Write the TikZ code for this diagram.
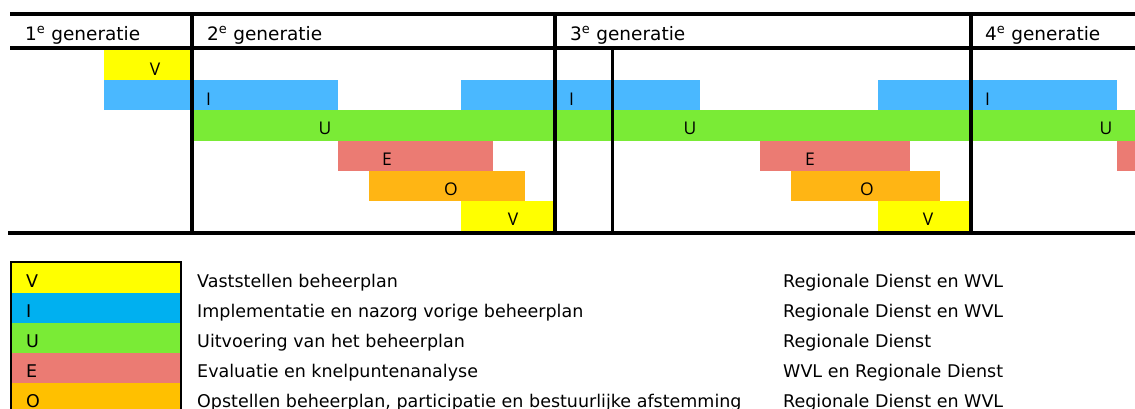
\documentclass[tikz,border=0pt]{standalone}
\usepackage{fontspec}
\setmainfont{DejaVu Sans}
\newfontfamily\barfont{Open Sans}
\definecolor{vyel}{HTML}{FFFF00}
\definecolor{iblue}{HTML}{4AB8FF}
\definecolor{ugreen}{HTML}{7AEB36}
\definecolor{esalmon}{HTML}{EB7B73}
\definecolor{oorange}{HTML}{FFB514}
\definecolor{legblue}{HTML}{00B0F0}
\definecolor{legorange}{HTML}{FFC000}
\begin{document}
\begin{tikzpicture}[x=1pt,y=-1pt,
  rule/.style={line width=4pt},
  thinrule/.style={line width=2.2pt},
  hdr/.style={anchor=base west,inner sep=0pt,font=\fontsize{18.5}{20}\selectfont},
  blab/.style={anchor=base,inner sep=0pt,font=\barfont\fontsize{17.5}{19}\selectfont},
  ltxt/.style={anchor=base west,inner sep=0pt,font=\fontsize{17.5}{19}\selectfont}]
\useasboundingbox (0,0) rectangle (1135,408);
\clip (0,0) rectangle (1135,408);
% ---------- bars ----------
% row 1
\fill[vyel] (104,50) rectangle (192,80);
% row 2
\fill[iblue] (104,80) rectangle (338,110);
\fill[iblue] (461,80) rectangle (700,110);
\fill[iblue] (878,80) rectangle (1117,110);
% row 3
\fill[ugreen] (192,110) rectangle (1135,140.5);
% row 4
\fill[esalmon] (338,140.5) rectangle (493,170.5);
\fill[esalmon] (760,140.5) rectangle (910,170.5);
\fill[esalmon] (1117,140.5) rectangle (1135,170.5);
% row 5
\fill[oorange] (369,170.5) rectangle (525,200.5);
\fill[oorange] (791,170.5) rectangle (940,200.5);
% row 6
\fill[vyel] (461,200.5) rectangle (555,231);
\fill[vyel] (878,200.5) rectangle (971,231);
% ---------- bar labels ----------
\node[blab] (v1) at (155,75) {V};
\node[blab] (i1) at (208.5,105) {I};
\node[blab] (i2) at (571.5,105) {I};
\node[blab] (i3) at (987.5,105) {I};
\node[blab] (u1) at (325,134.5) {U};
\node[blab] (u2) at (690,134.5) {U};
\node[blab] (u3) at (1106,134.5) {U};
\node[blab] (e1) at (387,165) {E};
\node[blab] (e2) at (810,165) {E};
\node[blab] (o1) at (451,195) {O};
\node[blab] (o2) at (867,195) {O};
\node[blab] (v2) at (513,225.5) {V};
\node[blab] (v3) at (928,225.5) {V};
% ---------- rules ----------
\draw[rule] (10,14) -- (1135,14);
\draw[rule] (10,48) -- (1135,48);
\draw[rule] (8,233) -- (1135,233);
\draw[rule] (191.5,14) -- (191.5,233);
\draw[rule] (555,14) -- (555,233);
\draw[rule] (971,14) -- (971,233);
\draw[thinrule] (612.5,48) -- (612.5,233);
% ---------- headers ----------
\node[hdr] (g1) at (25,40) {1\textsuperscript{e} generatie};
\node[hdr] (g2) at (207,40) {2\textsuperscript{e} generatie};
\node[hdr] (g3) at (570,40) {3\textsuperscript{e} generatie};
\node[hdr] (g4) at (985,40) {4\textsuperscript{e} generatie};
% ---------- legend ----------
\fill[vyel] (11,262) rectangle (181,292.5);
\fill[legblue] (11,292.5) rectangle (181,323);
\fill[ugreen] (11,323) rectangle (181,353);
\fill[esalmon] (11,353) rectangle (181,383);
\fill[legorange] (11,383) rectangle (181,430);
\draw[line width=2.8pt] (11,262) rectangle (181,430);
\node[ltxt] (lv) at (26,287.5) {V};
\node[ltxt] (li) at (26,317.5) {I};
\node[ltxt] (lu) at (26,347.5) {U};
\node[ltxt] (le) at (26,377.5) {E};
\node[ltxt] (lo) at (26,407.5) {O};
\node[ltxt] (dv) at (197,287.5) {Vaststellen beheerplan};
\node[ltxt] (di) at (197,317.5) {Implementatie en nazorg vorige beheerplan};
\node[ltxt] (du) at (197,347.5) {Uitvoering van het beheerplan};
\node[ltxt] (de) at (197,377.5) {Evaluatie en knelpuntenanalyse};
\node[ltxt] (do) at (197,407.5) {Opstellen beheerplan, participatie en bestuurlijke afstemming};
\node[ltxt] (rv) at (783,287.5) {Regionale Dienst en WVL};
\node[ltxt] (ri) at (783,317.5) {Regionale Dienst en WVL};
\node[ltxt] (ru) at (783,347.5) {Regionale Dienst};
\node[ltxt] (re) at (783,377.5) {WVL en Regionale Dienst};
\node[ltxt] (ro) at (783,407.5) {Regionale Dienst en WVL};
\end{tikzpicture}
\end{document}
